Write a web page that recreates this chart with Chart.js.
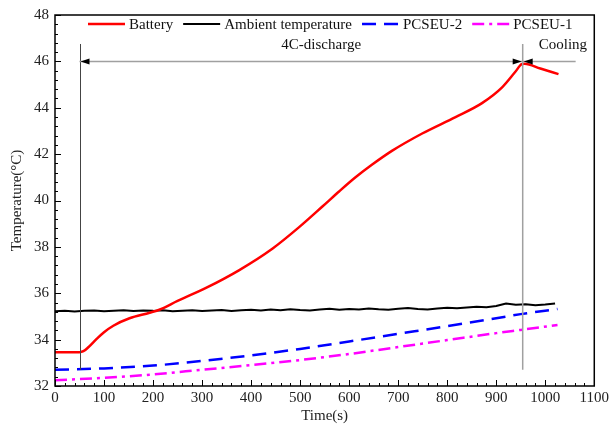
<!DOCTYPE html>
<html><head><meta charset="utf-8">
<script src="https://cdn.jsdelivr.net/npm/chart.js@4.4.1/dist/chart.umd.min.js"></script>
<style>html,body{margin:0;padding:0;background:#fff}canvas{display:block}</style>
</head><body>
<canvas id="c" width="612" height="432"></canvas>
<script>
// ---- data ----
const xTickLabels = ['0','100','200','300','400','500','600','700','800','900','1000','1100'];
const yTickLabels = ['32','34','36','38','40','42','44','46','48'];
const seriesNames = ['Battery', 'Ambient temperature', 'PCSEU-2', 'PCSEU-1'];

const batteryTime = [0, 25, 50, 58, 68, 85, 100, 119, 152, 193, 214, 250, 308, 376, 444, 498, 546, 580, 613, 647, 688, 749, 817, 871, 912, 939, 952, 958, 990, 1027];
const batteryTemp = [33.46, 33.46, 33.46, 33.5, 33.67, 34.03, 34.32, 34.6, 34.92, 35.16, 35.3, 35.67, 36.23, 37.0, 37.93, 38.85, 39.75, 40.4, 41.0, 41.55, 42.15, 42.89, 43.6, 44.2, 44.88, 45.55, 45.88, 45.9, 45.69, 45.45];

const ambientTime = [0,20,40,60,80,100,120,140,160,180,200,220,240,260,280,300,320,340,360,380,400,420,440,460,480,500,520,540,560,580,600,620,640,660,680,700,720,740,760,780,800,820,840,860,880,900,920,940,960,980,1000,1020];
const ambientTemp = [35.22,35.25,35.21,35.24,35.26,35.22,35.25,35.27,35.23,35.26,35.24,35.27,35.22,35.25,35.27,35.23,35.26,35.28,35.24,35.27,35.29,35.26,35.3,35.27,35.31,35.28,35.26,35.3,35.33,35.29,35.32,35.3,35.34,35.31,35.29,35.33,35.36,35.32,35.3,35.34,35.37,35.35,35.39,35.42,35.4,35.45,35.56,35.5,35.53,35.48,35.51,35.56];

const pcseu2Time = [0, 100, 200, 300, 400, 500, 600, 700, 800, 900, 950, 1025];
const pcseu2Temp = [32.7, 32.76, 32.88, 33.08, 33.32, 33.6, 33.92, 34.25, 34.58, 34.92, 35.1, 35.32];

const pcseu1Time = [0, 100, 200, 300, 400, 500, 600, 700, 800, 900, 950, 1025];
const pcseu1Temp = [32.25, 32.35, 32.5, 32.7, 32.9, 33.12, 33.38, 33.68, 33.98, 34.28, 34.42, 34.63];

// phase annotation values (data units)
const phaseStart = 50, phaseSwitch = 954, coolingEnd = 1062;
const phaseArrowTemp = 46.0, phaseLineTop = 46.75, phaseLineBottom = 32.7;
const phaseLabels = ['4C-discharge', 'Cooling'];
const phaseLabelX = [543, 1036];

const FONT = "'Liberation Serif', 'Times New Roman', serif";
const FS = 15;
const toPts = (xs, ys) => xs.map((x, i) => ({x, y: ys[i]}));

const framePlugin = {
  id: 'frame',
  afterDraw(chart) {
    const {ctx, chartArea: a, scales: {x, y}} = chart;
    ctx.save();
    // annotations
    const xs = x.getPixelForValue(phaseStart), xw = x.getPixelForValue(phaseSwitch), xe = x.getPixelForValue(coolingEnd);
    const yt = y.getPixelForValue(phaseLineTop), yb = y.getPixelForValue(phaseLineBottom), ya = y.getPixelForValue(phaseArrowTemp);
    ctx.lineWidth = 1; ctx.strokeStyle = '#444';
    ctx.beginPath(); ctx.moveTo(Math.round(xs)+0.5, yt); ctx.lineTo(Math.round(xs)+0.5, yb); ctx.stroke();
    ctx.lineWidth = 1.5; ctx.strokeStyle = '#a0a0a0';
    ctx.beginPath(); ctx.moveTo(xw, yt); ctx.lineTo(xw, yb); ctx.stroke();
    ctx.beginPath(); ctx.moveTo(xs, ya); ctx.lineTo(xe, ya); ctx.stroke();
    ctx.fillStyle = '#000';
    const head = (px, dir) => { ctx.beginPath(); ctx.moveTo(px, ya); ctx.lineTo(px + dir*9, ya - 3); ctx.lineTo(px + dir*9, ya + 3); ctx.closePath(); ctx.fill(); };
    head(xs + 1, 1); head(xw - 1, -1); head(xw + 1, 1);
    ctx.font = FS + 'px ' + FONT; ctx.textAlign = 'center'; ctx.textBaseline = 'middle'; ctx.fillStyle = '#111';
    ctx.fillText(phaseLabels[0], x.getPixelForValue(phaseLabelX[0]), 45);
    ctx.fillText(phaseLabels[1], x.getPixelForValue(phaseLabelX[1]), 45);

    // legend
    let lx = 88; const ly = 24;
    ctx.textAlign = 'left';
    chart.data.datasets.forEach(ds => {
      ctx.strokeStyle = ds.borderColor; ctx.lineWidth = ds.borderWidth;
      ctx.setLineDash(ds.borderDash || []);
      ctx.beginPath(); ctx.moveTo(lx, ly); ctx.lineTo(lx + 37, ly); ctx.stroke();
      ctx.setLineDash([]);
      ctx.fillStyle = '#111';
      ctx.fillText(ds.label, lx + 41, ly + 1);
      lx += 41 + ctx.measureText(ds.label).width + 10;
    });

    // frame
    ctx.strokeStyle = '#000'; ctx.lineWidth = 1.5;
    ctx.strokeRect(a.left, a.top, a.right - a.left, a.bottom - a.top);
    // ticks (inward), bottom and left only
    ctx.lineWidth = 1;
    ctx.beginPath();
    for (let v = 0; v <= 1100; v += 20) {
      const px = Math.round(x.getPixelForValue(v)) + 0.5;
      const len = (v % 100 === 0) ? 6 : 3;
      ctx.moveTo(px, a.bottom); ctx.lineTo(px, a.bottom - len);
    }
    for (let k = 0; k <= 40; k++) {
      const v = 32 + k * 0.4;
      const py = Math.round(y.getPixelForValue(v)) + 0.5;
      const len = (k % 5 === 0) ? 6 : 3;
      ctx.moveTo(a.left, py); ctx.lineTo(a.left + len, py);
    }
    ctx.stroke();
    ctx.restore();
  }
};

const ctx = document.getElementById('c').getContext('2d');
new Chart(ctx, {
  type: 'scatter',
  data: {
    datasets: [
      {label: seriesNames[0], data: toPts(batteryTime, batteryTemp), showLine: true, borderColor: '#ff0000', backgroundColor: '#ff0000', borderWidth: 2.5, pointRadius: 0, cubicInterpolationMode: 'monotone'},
      {label: seriesNames[1], data: toPts(ambientTime, ambientTemp), showLine: true, borderColor: '#000000', backgroundColor: '#000000', borderWidth: 2, pointRadius: 0, tension: 0},
      {label: seriesNames[2], data: toPts(pcseu2Time, pcseu2Temp), showLine: true, borderColor: '#0000ff', backgroundColor: '#0000ff', borderWidth: 2.5, borderDash: [14, 8], pointRadius: 0, cubicInterpolationMode: 'monotone'},
      {label: seriesNames[3], data: toPts(pcseu1Time, pcseu1Temp), showLine: true, borderColor: '#ff00ff', backgroundColor: '#ff00ff', borderWidth: 2.5, borderDash: [12, 5, 3, 5], pointRadius: 0, cubicInterpolationMode: 'monotone'}
    ]
  },
  options: {
    responsive: false, animation: false, devicePixelRatio: 1,
    layout: {padding: {top: 10, right: 16, left: 0, bottom: 0}},
    plugins: {legend: {display: false}, tooltip: {enabled: false}},
    scales: {
      x: {
        type: 'linear', min: 0, max: 1100,
        afterFit(s) { s.height = 46; },
        ticks: {stepSize: 100, autoSkip: false, maxRotation: 0, padding: 3, color: '#222', font: {family: FONT, size: FS},
                callback: (v, i) => xTickLabels[i]},
        grid: {display: false, drawTicks: false}, border: {display: false},
        title: {display: true, text: 'Time(s)', color: '#222', font: {family: FONT, size: FS}, padding: {top: 0, bottom: 7}}
      },
      y: {
        type: 'linear', min: 32, max: 48,
        afterFit(s) { s.width = 55; },
        ticks: {stepSize: 2, autoSkip: false, padding: 6, color: '#222', font: {family: FONT, size: FS},
                callback: (v, i) => yTickLabels[i]},
        grid: {display: false, drawTicks: false}, border: {display: false},
        title: {display: true, text: 'Temperature(°C)', color: '#222', font: {family: FONT, size: FS}, padding: {top: 8, bottom: 0}}
      }
    }
  },
  plugins: [framePlugin]
});
</script>
</body></html>
